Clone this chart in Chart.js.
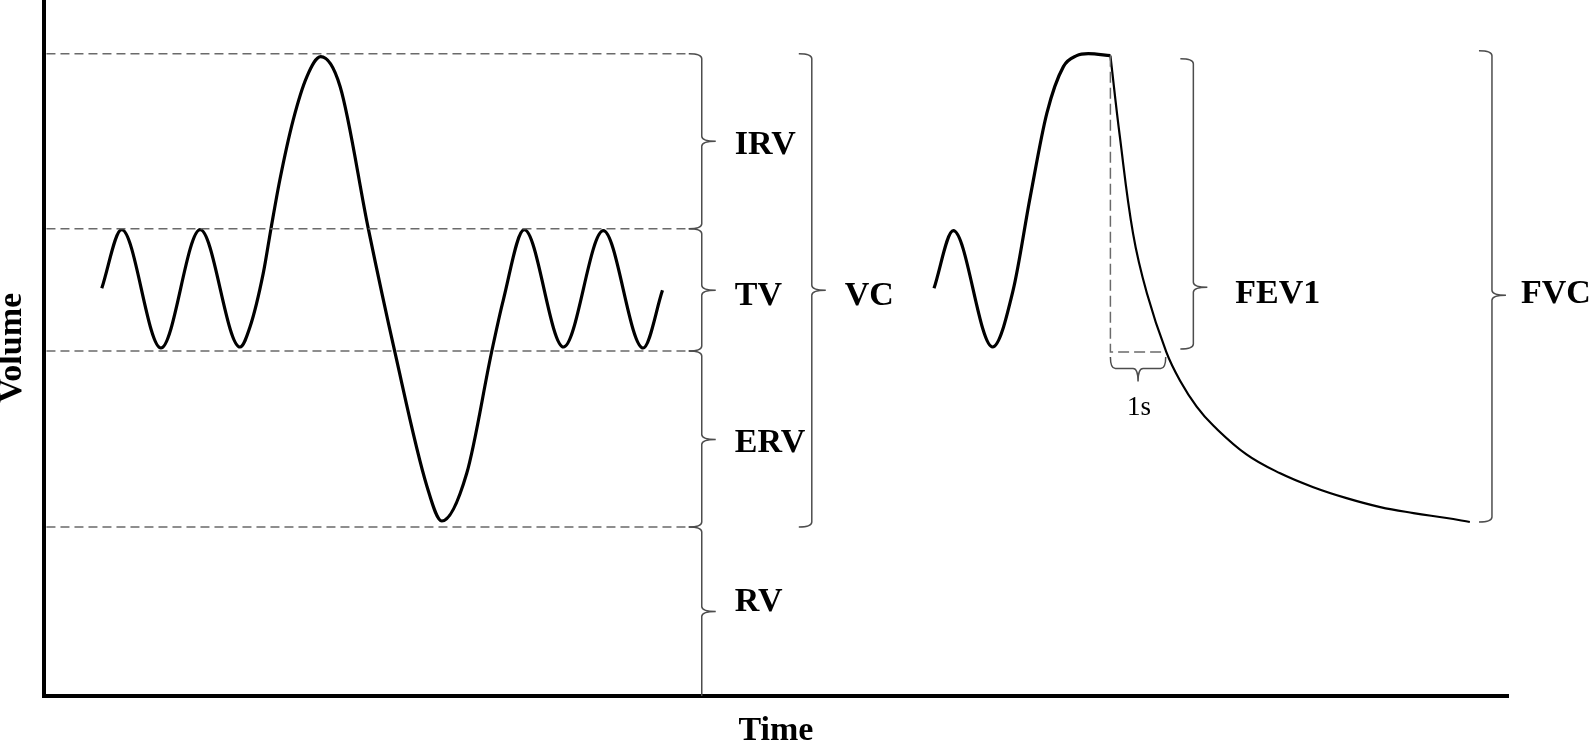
<!DOCTYPE html>
<html>
<head>
<meta charset="utf-8">
<title>Lung volumes</title>
<script src="https://cdn.jsdelivr.net/npm/chart.js@4.4.1/dist/chart.umd.min.js"></script>
<style>
  html, body { margin: 0; padding: 0; background: #fff; }
</style>
</head>
<body>
<canvas id="spiro" width="1592" height="742"></canvas>
<script>
// ------------------------------------------
// Data (time in s, volume in L, schematic)
// ------------------------------------------

// slow breathing: tidal breaths, full inspiration / expiration, tidal again
const slowTime   = [1.05, 1.41, 2.12, 2.83, 3.55, 3.73, 3.97, 4.11, 4.27, 4.51, 4.76, 5.01, 5.36, 5.87, 6.35, 6.93, 7.20, 7.65, 8.10, 8.31, 8.69, 9.40, 10.12, 10.84, 11.19];
const slowVolume = [4.10, 4.69, 3.50, 4.69, 3.51, 3.71, 4.25, 4.70, 5.19, 5.79, 6.23, 6.43, 6.13, 4.70, 3.46, 2.11, 1.76, 2.24, 3.46, 3.98, 4.69, 3.51, 4.68, 3.50, 4.08];

// forced manoeuvre: one tidal breath then maximal inspiration
const inhaleTime   = [16.10, 16.45, 17.16, 17.53, 17.84, 18.14, 18.44, 18.68, 18.89, 19.29];
const inhaleVolume = [4.10, 4.68, 3.51, 4.08, 5.02, 5.86, 6.33, 6.44, 6.46, 6.44];

// forced expiration
const exhaleTime   = [19.29, 19.46, 19.70, 19.95, 20.30, 20.55, 20.85, 21.15, 21.75, 22.36, 22.96, 23.56, 24.17, 24.77, 25.37, 25.79];
const exhaleVolume = [6.44, 5.63, 4.65, 4.05, 3.46, 3.17, 2.91, 2.72, 2.43, 2.24, 2.10, 1.99, 1.90, 1.84, 1.79, 1.75];

// reference levels (dashed): TLC, end-inspiratory, FRC, RV
const levelVolume = [6.46, 4.70, 3.47, 1.70];
const levelEnd = 11.69;

// FEV1 guide: start of expiration and volume after 1 s
const fev1Time   = [19.29, 19.29, 20.29];
const fev1Volume = [6.44, 3.46, 3.46];

// braces
const braceLabels = ['IRV', 'TV', 'ERV', 'RV', 'VC', 'FEV1', 'FVC'];
const braceTime   = [11.90, 11.90, 11.90, 11.90, 13.89, 20.79, 26.19];
const braceTop    = [6.46, 4.70, 3.47, 1.70, 6.46, 6.41, 6.49];
const braceBottom = [4.70, 3.47, 1.70, 0, 1.70, 3.49, 1.75];
const braceTip    = [5.58, 4.08, 2.58, 0.85, 4.08, 4.11, 4.03];

const toPoints = (xs, ys) => xs.map((t, i) => ({ x: t, y: ys[i] }));

Chart.defaults.font.family = '"Liberation Serif", "Times New Roman", serif';
Chart.defaults.color = '#000';

// ------------------------------------------
// Curly braces + labels
// ------------------------------------------
function drawBrace(ctx, x, y1, y2, ym, closeBottom) {
  const r = 5, hook = 13, tip = 14;
  ctx.beginPath();
  ctx.moveTo(x - hook, y1);
  ctx.quadraticCurveTo(x, y1, x, y1 + r);
  ctx.lineTo(x, ym - r);
  ctx.quadraticCurveTo(x, ym, x + tip, ym);
  ctx.quadraticCurveTo(x, ym, x, ym + r);
  if (closeBottom) {
    ctx.lineTo(x, y2 - r);
    ctx.quadraticCurveTo(x, y2, x - hook, y2);
  } else {
    ctx.lineTo(x, y2);
  }
  ctx.stroke();
}

// baseline of each label below the brace tip (px), and gap after the tip
const labelDrop = { IRV: 13, TV: 15, ERV: 13, RV: 0, VC: 15, FEV1: 16, FVC: 8 };
const labelGap = { FEV1: 28, FVC: 15 };

const bracePlugin = {
  id: 'braces',
  afterDatasetsDraw(chart) {
    const { ctx, scales: { x, y } } = chart;
    ctx.save();
    ctx.strokeStyle = '#4d4d4d';
    ctx.lineWidth = 1.5;
    ctx.fillStyle = '#000';
    ctx.textBaseline = 'alphabetic';
    ctx.font = 'bold 34px "Liberation Serif"';

    braceLabels.forEach((label, i) => {
      const px = x.getPixelForValue(braceTime[i]);
      const top = y.getPixelForValue(braceTop[i]);
      const bottom = y.getPixelForValue(braceBottom[i]);
      const mid = y.getPixelForValue(braceTip[i]);
      drawBrace(ctx, px, top, bottom, mid, braceBottom[i] > 0);
      const gap = labelGap[label] || 19;
      ctx.fillText(label, px + 14 + gap, mid + labelDrop[label]);
    });

    // horizontal brace marking the first second
    const x1 = x.getPixelForValue(fev1Time[1]);
    const x2 = x.getPixelForValue(fev1Time[2]);
    const xm = (x1 + x2) / 2;
    const yl = y.getPixelForValue(fev1Volume[2]) + 16.5;
    const r = 5;
    ctx.beginPath();
    ctx.moveTo(x1, yl - 11.5);
    ctx.quadraticCurveTo(x1, yl, x1 + r, yl);
    ctx.lineTo(xm - r, yl);
    ctx.quadraticCurveTo(xm, yl, xm, yl + 13);
    ctx.quadraticCurveTo(xm, yl, xm + r, yl);
    ctx.lineTo(x2 - r, yl);
    ctx.quadraticCurveTo(x2, yl, x2, yl - 11.5);
    ctx.stroke();

    ctx.font = '27px "Liberation Serif"';
    ctx.textAlign = 'center';
    ctx.fillText('1s', xm + 1, yl + 47);
    ctx.restore();
  }
};

// ------------------------------------------
// Datasets
// ------------------------------------------
const traceStyle = {
  borderColor: '#000',
  pointRadius: 0,
  cubicInterpolationMode: 'monotone',
  fill: false
};

const dashedStyle = {
  borderColor: '#6a6a6a',
  borderWidth: 1.5,
  borderDash: [9, 5],
  pointRadius: 0,
  tension: 0,
  fill: false
};

const datasets = [
  ...levelVolume.map(v => ({
    ...dashedStyle,
    data: toPoints([0.05, levelEnd], [v, v])
  })),
  { ...dashedStyle, borderDash: [11, 5], data: toPoints(fev1Time, fev1Volume) },
  { ...traceStyle, borderWidth: 3.2, data: toPoints(slowTime, slowVolume) },
  { ...traceStyle, borderWidth: 3.2, data: toPoints(inhaleTime, inhaleVolume) },
  {
    borderColor: '#000', pointRadius: 0, fill: false,
    borderWidth: 2.2, tension: 0.4,
    data: toPoints(exhaleTime, exhaleVolume)
  }
];

new Chart(document.getElementById('spiro'), {
  type: 'line',
  data: { datasets },
  options: {
    responsive: false,
    animation: false,
    events: [],
    layout: { padding: { left: 0, right: 84, top: 0, bottom: 0 }, autoPadding: false },
    plugins: { legend: { display: false }, tooltip: { enabled: false } },
    scales: {
      x: {
        type: 'linear',
        min: 0,
        max: 26.48,
        grid: { display: false, drawTicks: false },
        ticks: { display: false },
        border: { color: '#000', width: 4 },
        title: {
          display: true,
          text: 'Time',
          font: { size: 34, weight: 'bold', lineHeight: 0.6 },
          padding: { top: 25.3, bottom: 0.3 }
        }
      },
      y: {
        type: 'linear',
        min: 0,
        max: 7,
        grid: { display: false, drawTicks: false },
        ticks: { display: false },
        border: { color: '#000', width: 4 },
        title: {
          display: true,
          text: 'Volume',
          font: { size: 34, weight: 'bold', lineHeight: 0.7 },
          padding: { top: 0, bottom: 19.9 }
        }
      }
    }
  },
  plugins: [bracePlugin]
});
</script>
</body>
</html>
